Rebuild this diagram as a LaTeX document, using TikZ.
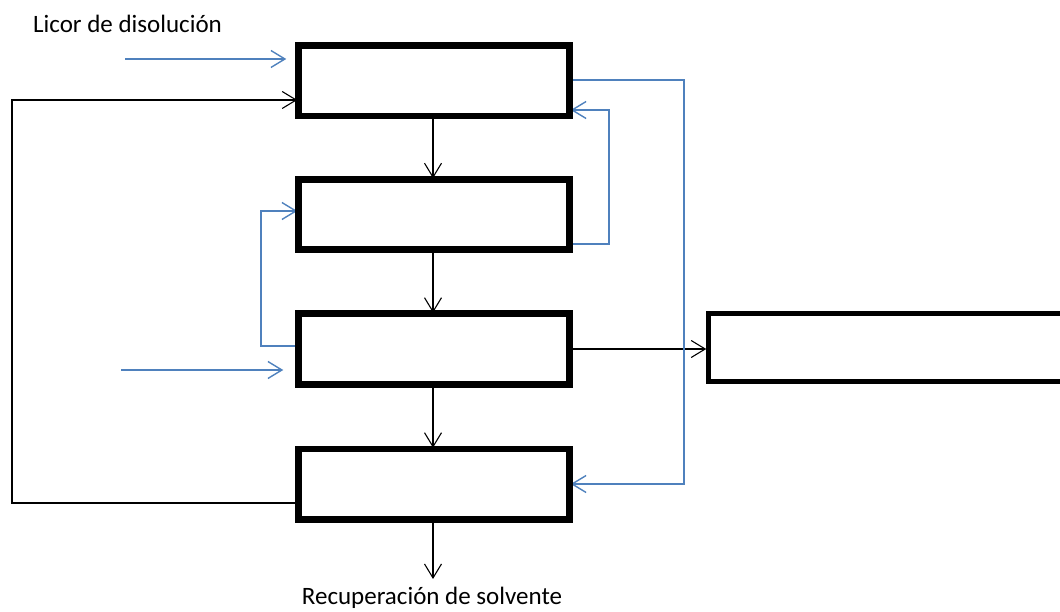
\documentclass[tikz,border=0pt]{standalone}
\usepackage{fontspec}
\setmainfont{Carlito}
\usetikzlibrary{arrows.meta}
\definecolor{flowblue}{HTML}{4F81BD}
\begin{document}
\begin{tikzpicture}[x=1pt,y=-1pt,
  unit/.style={draw=black,line width=4.5pt,fill=white,minimum width=269pt,minimum height=68pt,inner sep=0pt},
  mainflow/.style={draw=black,line width=1.1pt,-{Straight Barb[length=14pt,width=17pt]}},
  blueflow/.style={draw=flowblue,line width=1.4pt,-{Straight Barb[length=14pt,width=17pt]}},
  label/.style={font=\fontsize{25}{30}\selectfont,inner sep=0pt}]
\useasboundingbox (0,0) rectangle (1060,612);

% free ends of the feed and product streams
\coordinate (feedA) at (125,59);
\coordinate (feedB) at (121,370);
\coordinate (outlet) at (433,579);

% units
\node[unit] (u1) at (434,81) {};
\node[unit] (u2) at (434,214.5) {};
\node[unit] (u3) at (434,349) {};
\node[unit] (u4) at (434,484) {};
\begin{scope}
\clip (0,0) rectangle (1060,612);
\node[unit,minimum width=400pt] (u5) at (908.5,347.5) {};
\end{scope}

% labels
\node[label,anchor=base west] (lblA) at (33,33) {Licor de disolución};
\node[label,anchor=base] (lblB) at (432,604) {Recuperación de solvente};

% main (black) flows
\draw[mainflow] (u1.south -| 433,0) -- (u2.north -| 433,0);
\draw[mainflow] (u2.south -| 433,0) -- (u3.north -| 433,0);
\draw[mainflow] (u3.south -| 433,0) -- (u4.north -| 433,0);
\draw[mainflow] (u4.south -| 433,0) -- (outlet);
\draw[mainflow] (u3.east |- 0,349) -- (u5.west |- 0,349);
\draw[mainflow] (u4.west |- 0,503) -- (12,503) -- (12,100) -- (u1.west |- 0,100);

% blue flows
\draw[blueflow,shorten >=11pt] (feedA) -- (u1.west |- feedA);
\draw[blueflow,shorten >=14pt] (feedB) -- (u3.west |- feedB);
\draw[blueflow] (u1.east |- 0,80) -- (684,80) -- (684,484) -- (u4.east |- 0,484);
\draw[blueflow] (u2.east |- 0,244) -- (609,244) -- (609,110) -- (u1.east |- 0,110);
\draw[blueflow] (u3.west |- 0,346) -- (261,346) -- (261,211) -- (u2.west |- 0,211);

% redraw unit outlines over the stream ends
\foreach \u in {u1,u2,u3,u4}{\draw[line width=4.5pt] (\u.south west) rectangle (\u.north east);}
\end{tikzpicture}
\end{document}
